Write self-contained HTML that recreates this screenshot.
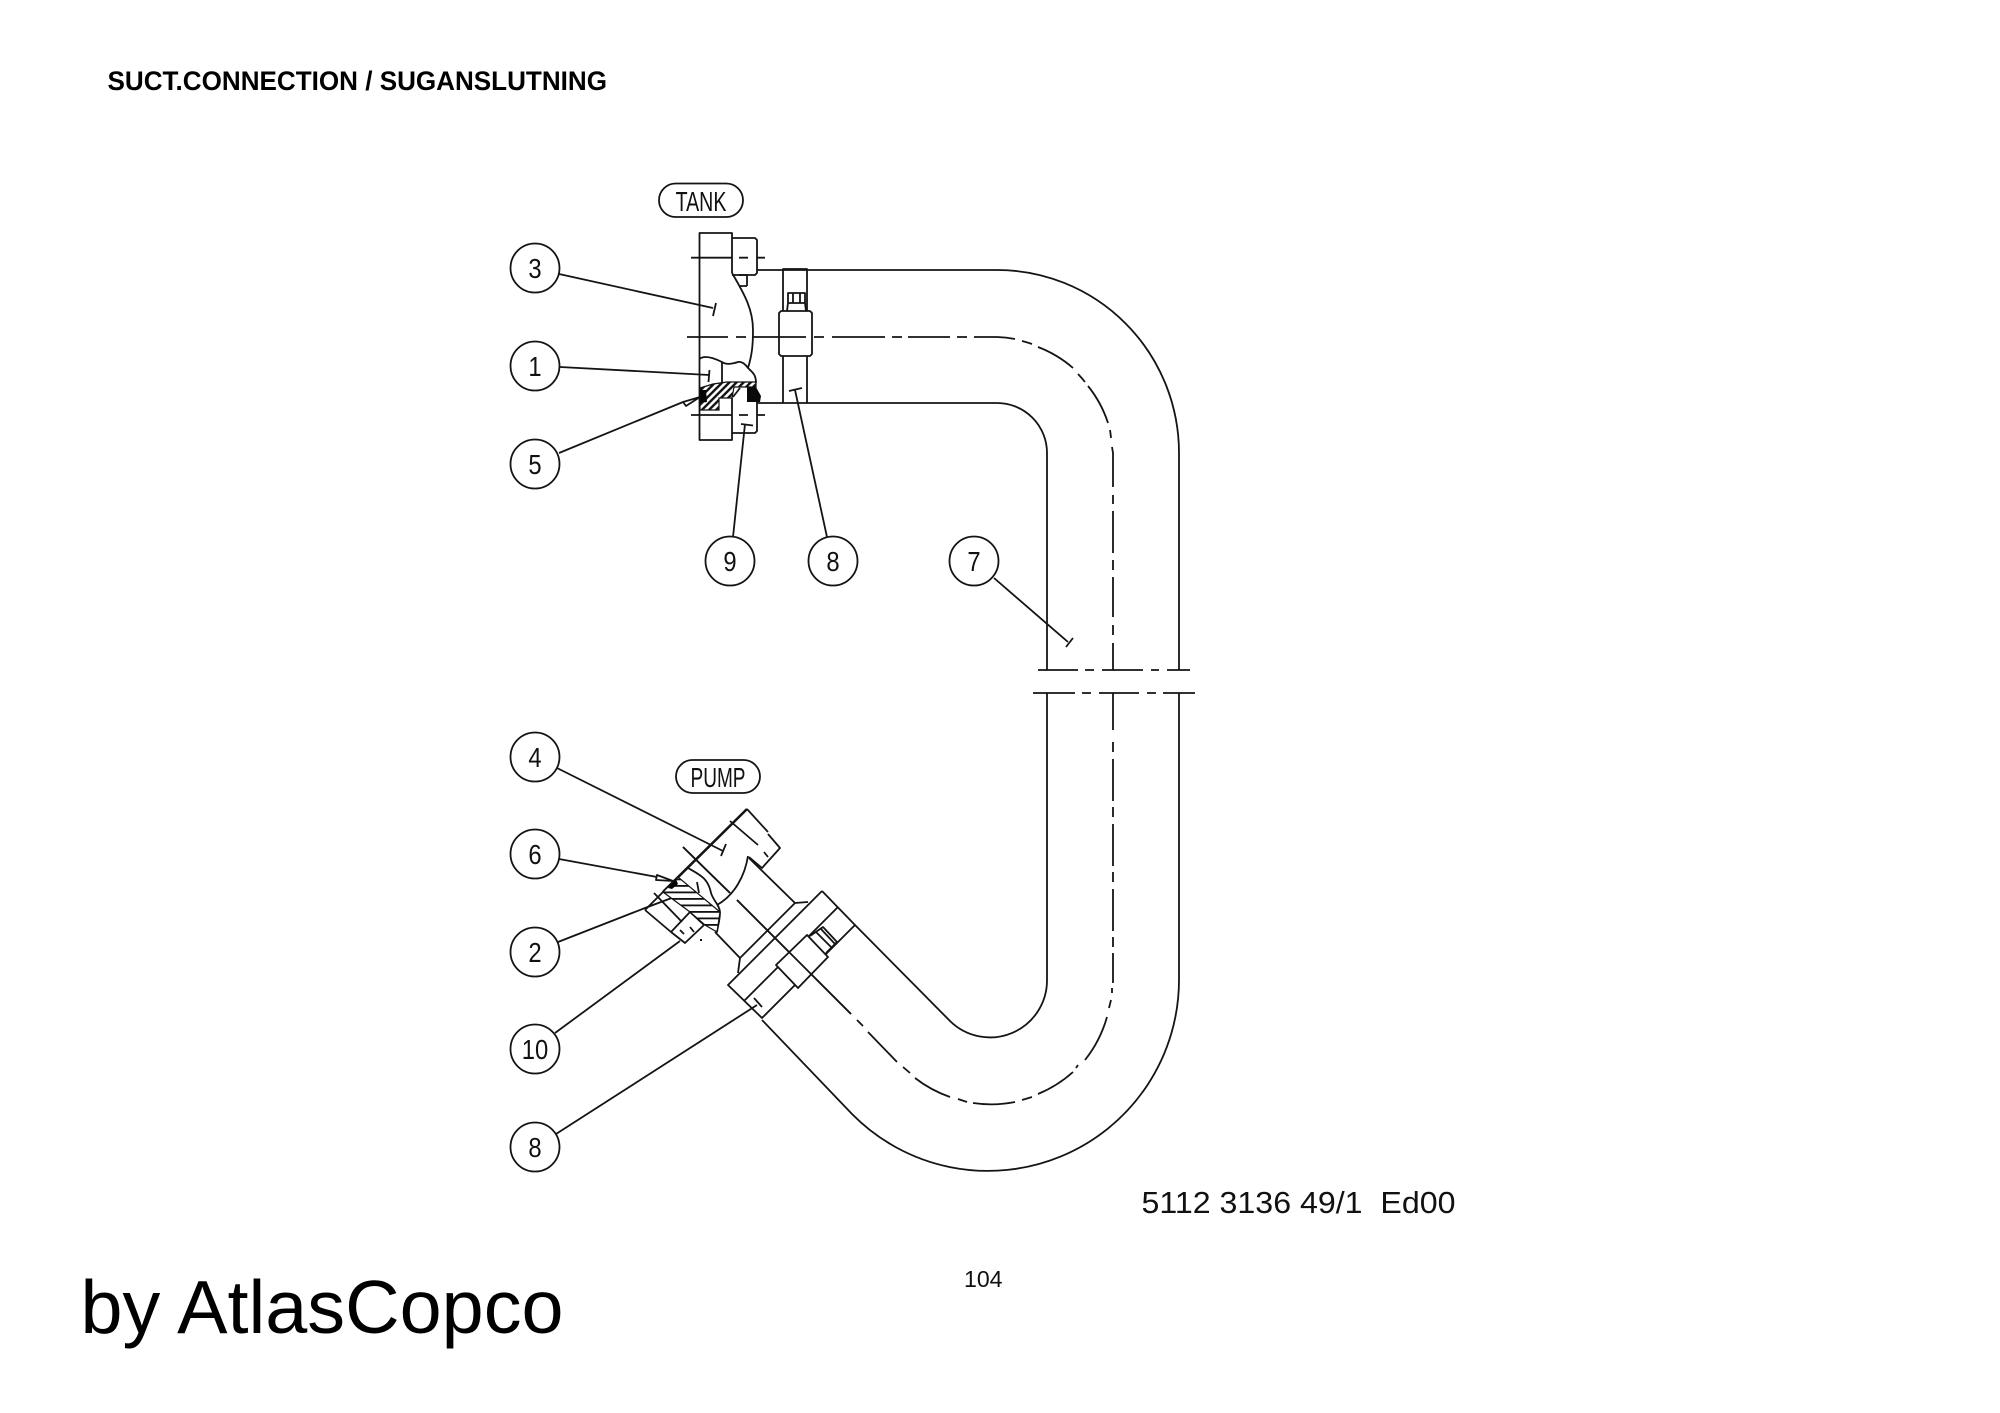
<!DOCTYPE html>
<html><head><meta charset="utf-8"><style>
html,body{margin:0;padding:0;background:#fff;width:2000px;height:1413px;overflow:hidden}
svg{display:block;position:absolute;left:0;top:0}
text{font-family:"Liberation Sans",sans-serif;fill:#111}
.n{font-size:28px;text-anchor:middle;fill:#222}
.l{fill:none;stroke:#141414;stroke-width:1.8;stroke-linejoin:round;stroke-linecap:butt}
</style></head><body>
<svg width="2000" height="1413" viewBox="0 0 2000 1413" xmlns="http://www.w3.org/2000/svg">
<defs>
<pattern id="h1" width="5" height="5" patternUnits="userSpaceOnUse" patternTransform="rotate(45)"><rect width="5" height="5" fill="#fff"/><rect width="2.4" height="5" fill="#111"/></pattern>
<pattern id="h2" width="6.500" height="6.500" patternUnits="userSpaceOnUse" patternTransform="translate(0,1)"><rect width="7" height="7" fill="#fff"/><rect width="7" height="1.800" fill="#111"/></pattern>
</defs>

<text x="107.500" y="90" font-size="26.8" font-weight="bold" textLength="499.500" lengthAdjust="spacingAndGlyphs" style="fill:#000">SUCT.CONNECTION / SUGANSLUTNING</text>
<text x="80.500" y="1333" font-size="75" textLength="483" lengthAdjust="spacingAndGlyphs" style="fill:#000">by AtlasCopco</text>
<text x="1141.500" y="1213" font-size="31" textLength="314" lengthAdjust="spacingAndGlyphs" xml:space="preserve">5112 3136 49/1  Ed00</text>
<text x="964" y="1287" font-size="23" textLength="38.500" lengthAdjust="spacingAndGlyphs">104</text>

<!-- balloons -->
<g class="l">
<circle cx="535" cy="268" r="24.5"/><circle cx="535" cy="366" r="24.5"/><circle cx="535" cy="464" r="24.5"/>
<circle cx="730" cy="561" r="24.5"/><circle cx="833" cy="561" r="24.5"/><circle cx="974" cy="561" r="24.5"/>
<circle cx="535" cy="757" r="24.5"/><circle cx="535" cy="854" r="24.5"/><circle cx="535" cy="952" r="24.5"/>
<circle cx="535" cy="1049" r="24.5"/><circle cx="535" cy="1147" r="24.5"/>
<rect x="659" y="183.500" width="84" height="33.500" rx="16.700"/>
<rect x="676" y="760" width="84" height="33" rx="16.500"/>
</g>
<g class="n">
<text transform="translate(535,278) scale(.85,1)">3</text>
<text transform="translate(535,376) scale(.85,1)">1</text>
<text transform="translate(535,474) scale(.85,1)">5</text>
<text transform="translate(730,571) scale(.85,1)">9</text>
<text transform="translate(833,571) scale(.85,1)">8</text>
<text transform="translate(974,571) scale(.85,1)">7</text>
<text transform="translate(535,767) scale(.85,1)">4</text>
<text transform="translate(535,864) scale(.85,1)">6</text>
<text transform="translate(535,962) scale(.85,1)">2</text>
<text transform="translate(535,1059) scale(.85,1)">10</text>
<text transform="translate(535,1157) scale(.85,1)">8</text>
<text transform="translate(701,211) scale(.7,1)" font-size="28">TANK</text>
<text transform="translate(718,787) scale(.68,1)" font-size="28">PUMP</text>
</g>

<!-- leaders -->
<g class="l">
<path d="M559 274L713 308M716 303L713 316"/>
<path d="M560 367L709 375M709.500 370L708.500 382"/>
<path d="M559 453L683 402"/>
<path d="M683 402L700 397L686 406Z" fill="#fff"/>
<path d="M733 537L745 424M741 424L753 425.500"/>
<path d="M827 537L795 390M789 391L802 388"/>
<path d="M994 578L1068 642M1066 647L1073 638"/>
<path d="M557 768L723 851M726 844L721 856"/>
<path d="M559 859L657 877"/>
<path d="M657 875L673 881L656 880Z" fill="#fff"/>
<path d="M558 942L645 908L693 890M697 882L699 893"/>
<path d="M555 1033L680 941"/>
<path d="M556 1134L757 1005M754 998L762 1007"/>
</g>

<!-- pipe -->
<g class="l">
<path d="M757 270H997A182 183 0 0 1 1179 453V670M1179 693V979A191 191 0 0 1 852 1114L762 1020"/>
<path d="M757 403H997A50 50 0 0 1 1047 453V670M1047 693V980A57 57 0 0 1 950 1021L855 925"/>
<path d="M1038 670H1078M1085 670H1094M1102 670H1143M1151 670H1159M1167 670H1190"/>
<path d="M1033 693H1075M1082 693H1091M1099 693H1139M1147 693H1156M1163 693H1195"/>
<!-- centre line -->
<path d="M832 337H885M892 337H902M908 337H950M957 337H967M974 337H997A116 116 0 0 1 1015 339M1022 341A116 116 0 0 1 1032 344M1038 347A116 116 0 0 1 1073 368M1078 374A116 116 0 0 1 1085 382M1088 386A116 116 0 0 1 1108 423M1110 430A116 116 0 0 1 1111 438M1112 447L1113 453V487"/>
<path d="M1113 495V504M1113 511V553M1113 560V570M1113 577V617M1113 625V635M1113 643V670"/>
<path d="M1113 693V730M1113 742V752M1113 759V801M1113 807V817M1113 824V866M1113 872V882M1113 889V931M1113 937V947M1113 953V983"/>
<path d="M1112 988V993M1111 1000L1109 1008M1107 1017A123 123 0 0 1 1085 1060M1078 1065L1076 1068M1073 1072A123 123 0 0 1 1038 1094M1032 1097L1022 1100M1015 1102A123 123 0 0 1 973 1103M967 1102L958 1099M950 1097A123 123 0 0 1 915 1078M910 1073L903 1067M897 1062L868 1032M863 1026L857 1020M851 1014L737 900M730 893L683 847"/>
<path d="M691 257.700H732M739 257.700H748M757 257.700H765"/>
<path d="M691 415H732M739 415H748M757 415H765"/>
</g>

<!-- tank flange -->
<g class="l">
<path d="M732 273V233H699.500V440H732V398"/>
<path d="M732 238H755L757 240V273L755 275H732"/>
<path d="M732 433H755L757 431V397"/>
<path d="M732 273C745 295 753 310 753 330C753 345 752 355 748 368"/>
<path d="M739 275H747V286M740 286H747"/>
<path d="M699.500 359C703 356 710 356 722 362C726 365 732 364 738 362C742 361 746 365 748 368C752 372 756 374 756 383"/>
<path d="M722 362V383"/>
<path d="M783 403V269H807V403"/>
<path d="M781 311H810L812 313V354L810 356H781L779 354V313Z" fill="#fff"/>
<path d="M787 311L788 303V293H805V303L806 311M788 303H805M793 293V303M800 293V303"/>
<path d="M687 337H728M736 337H746M753 337H806M814 337H824"/>
</g>
<path d="M700 388L713 384L727 382H756V387H734L732 398H719V410H700Z" fill="url(#h1)" stroke="#111" stroke-width="1.200"/>
<path d="M700 390H706L707 402L700 403Z" fill="#050505"/>
<path d="M747 387H756L761 396L760 402H747Z" fill="#0a0a0a"/>
<path d="M740 388L733 397" class="l" />

<!-- pump flange -->
<g class="l">
<path d="M663 892L747 809" style="stroke-width:2.600"/>
<path d="M747 809L768 832M730 821L758 845"/>
<path d="M768 834L780 848L762 868L749 857M764 852L768 857"/>
<path d="M748 856C745 875 735 895 717 905"/>
<path d="M688 868C700 875 708 878 711 893C714 902 719 904 720 912C720 920 718 925 717 932"/>
<path d="M749 858L795 903L740 958L715 932M740 958L738 973M795 903L808 902"/>
<path d="M822 891L728 985L762 1018L855 925L822 891M838 907L744 1001"/>
<path d="M776 965L807 935L828 957L798 988Z" fill="#fff"/>
<path d="M810 936L823 927L837 942L826 953M816 932L831 947M821 929L835 944"/>
<path d="M683 847L730 893M737 900L851 1014"/>
<path d="M645 910L671 932L690 912M645 910L663 892M654 893L682 922"/>
<path d="M671 932L685 943L704 925L690 912M680 930L684 934M690 927L694 932"/>
</g>
<path d="M663 892L678 877L720 912L717 932L705 925L690 912Z" fill="url(#h2)" stroke="#111" stroke-width="1.200"/>
<path d="M668 888L676 879L678 884L672 889Z" fill="#050505"/>
<rect x="700" y="939" width="2" height="2" fill="#111"/>
</svg>
</body></html>
